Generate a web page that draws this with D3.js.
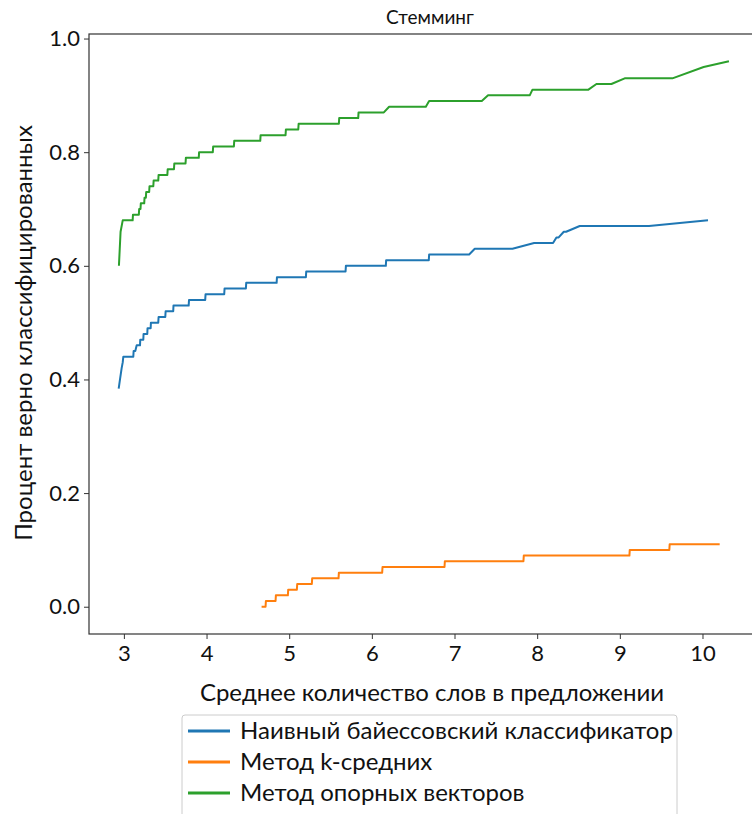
<!DOCTYPE html>
<html>
<head>
<meta charset="UTF-8" />
<title>Стемминг</title>
<script src="https://d3js.org/d3.v7.min.js"></script>
<style>
  body { margin: 0; background: #fff; }
  text { font-family: Lato, "Open Sans", sans-serif; fill: #111; }
</style>
</head>
<body>
<div id="main"></div>
<script type="text/javascript">

// Наивный байессовский классификатор
var bayesX = [2.937, 2.953, 2.973, 2.986, 2.993, 3.114, 3.118, 3.138, 3.155, 3.195, 3.198, 3.235, 3.238,
              3.283, 3.286, 3.324, 3.327, 3.416, 3.42, 3.501, 3.505, 3.597, 3.60, 3.784, 3.788, 3.984, 3.988,
              4.214, 4.218, 4.476, 4.48, 4.848, 4.852, 5.202, 5.206, 5.682, 5.686, 6.169, 6.173, 6.689, 6.693,
              7.177, 7.245, 7.701, 7.963, 8.192, 8.233, 8.26, 8.322, 8.35, 8.515, 9.353, 10.067];
var bayesY = [0.384, 0.40, 0.42, 0.43, 0.44, 0.44, 0.45, 0.45, 0.46, 0.46, 0.47, 0.47, 0.48,
              0.48, 0.49, 0.49, 0.50, 0.50, 0.51, 0.51, 0.52, 0.52, 0.53, 0.53, 0.54, 0.54, 0.55,
              0.55, 0.56, 0.56, 0.57, 0.57, 0.58, 0.58, 0.59, 0.59, 0.60, 0.60, 0.61, 0.61, 0.62,
              0.62, 0.63, 0.63, 0.64, 0.64, 0.65, 0.65, 0.66, 0.66, 0.67, 0.67, 0.68];

// Метод k-средних
var kmeansX = [4.666, 4.714, 4.718, 4.835, 4.839, 4.984, 4.988, 5.093, 5.097, 5.274, 5.278, 5.597, 5.601,
               6.125, 6.129, 6.879, 6.883, 7.834, 7.838, 9.116, 9.120, 9.599, 9.603, 10.208];
var kmeansY = [0.00, 0.00, 0.01, 0.01, 0.02, 0.02, 0.03, 0.03, 0.04, 0.04, 0.05, 0.05, 0.06,
               0.06, 0.07, 0.07, 0.08, 0.08, 0.09, 0.09, 0.10, 0.10, 0.11, 0.11];

// Метод опорных векторов
var svmX = [2.94, 2.95, 2.96, 2.986, 3.106, 3.11, 3.181, 3.185, 3.201, 3.205, 3.246, 3.25, 3.266, 3.27,
            3.306, 3.31, 3.356, 3.36, 3.416, 3.42, 3.526, 3.53, 3.606, 3.61, 3.746, 3.75, 3.906, 3.91,
            4.076, 4.08, 4.331, 4.335, 4.65, 4.654, 4.956, 4.96, 5.11, 5.114, 5.601, 5.605, 5.835, 5.839,
            6.145, 6.209, 6.653, 6.693, 7.33, 7.406, 7.91, 7.943, 8.62, 8.717, 8.898, 9.059, 9.636, 10.014, 10.32];
var svmY = [0.60, 0.63, 0.66, 0.68, 0.68, 0.69, 0.69, 0.70, 0.70, 0.71, 0.71, 0.72, 0.72, 0.73,
            0.73, 0.74, 0.74, 0.75, 0.75, 0.76, 0.76, 0.77, 0.77, 0.78, 0.78, 0.79, 0.79, 0.80,
            0.80, 0.81, 0.81, 0.82, 0.82, 0.83, 0.83, 0.84, 0.84, 0.85, 0.85, 0.86, 0.86, 0.87,
            0.87, 0.88, 0.88, 0.89, 0.89, 0.90, 0.90, 0.91, 0.91, 0.92, 0.92, 0.93, 0.93, 0.95, 0.96];

var seriesNames = ['Наивный байессовский классификатор', 'Метод k-средних', 'Метод опорных векторов'];
var seriesColors = ['#1f77b4', '#ff7f0e', '#2ca02c'];
var xTicks = [3, 4, 5, 6, 7, 8, 9, 10];
var yTicks = [0.0, 0.2, 0.4, 0.6, 0.8, 1.0];

var width = 752;
var height = 814;
var plotLeft = 89, plotRight = 762, plotTop = 34, plotBottom = 634;

var svg = d3.select('#main')
            .append('svg')
            .attr('width', width)
            .attr('height', height);

var x = d3.scaleLinear().domain([2.578, 10.72]).range([plotLeft, plotRight]);
var y = d3.scaleLinear().domain([-0.048, 1.008]).range([plotBottom, plotTop]);

var line = d3.line()
             .x(function(d){ return x(d[0]); })
             .y(function(d){ return y(d[1]); });

var series = [
  d3.zip(bayesX, bayesY),
  d3.zip(kmeansX, kmeansY),
  d3.zip(svmX, svmY)
];

svg.append('g')
   .selectAll('path')
   .data(series)
   .enter()
   .append('path')
   .attr('d', line)
   .attr('fill', 'none')
   .attr('stroke', function(d, i){ return seriesColors[i]; })
   .attr('stroke-width', 2)
   .attr('stroke-linejoin', 'round');

// axes
var xAxis = svg.append('g')
   .attr('transform', 'translate(0,' + plotBottom + ')')
   .call(d3.axisBottom(x).tickValues(xTicks).tickSize(5).tickPadding(6).tickFormat(d3.format('d')));
var yAxis = svg.append('g')
   .attr('transform', 'translate(' + plotLeft + ',0)')
   .call(d3.axisLeft(y).tickValues(yTicks).tickSize(5).tickPadding(4).tickFormat(d3.format('.1f')));

[xAxis, yAxis].forEach(function(a){
  a.select('.domain').remove();
  a.selectAll('line').attr('stroke', '#333');
  a.selectAll('text').style('font-size', '22px').attr('fill', '#111');
});

// frame
svg.append('rect')
   .attr('x', plotLeft).attr('y', plotTop)
   .attr('width', plotRight - plotLeft).attr('height', plotBottom - plotTop)
   .attr('fill', 'none')
   .attr('stroke', '#333')
   .attr('stroke-width', 1.2);

svg.append('text')
   .attr('x', 430).attr('y', 24)
   .attr('text-anchor', 'middle')
   .style('font-size', '19px')
   .text('Стемминг');

svg.append('text')
   .attr('x', 432).attr('y', 701)
   .attr('text-anchor', 'middle')
   .style('font-size', '24px')
   .text('Среднее количество слов в предложении');

svg.append('text')
   .attr('transform', 'translate(32,333) rotate(-90)')
   .attr('text-anchor', 'middle')
   .style('font-size', '24px')
   .text('Процент верно классифицированных');

// legend
var legend = svg.append('g');
legend.append('rect')
   .attr('x', 182).attr('y', 715)
   .attr('width', 495).attr('height', 110)
   .attr('rx', 3)
   .attr('fill', '#fff')
   .attr('stroke', '#ccc');

var items = legend.selectAll('g.item')
   .data(seriesNames)
   .enter()
   .append('g')
   .attr('transform', function(d, i){ return 'translate(0,' + (731 + i * 31) + ')'; });

items.append('line')
   .attr('x1', 188).attr('x2', 230)
   .attr('stroke', function(d, i){ return seriesColors[i]; })
   .attr('stroke-width', 3);

items.append('text')
   .attr('x', 240).attr('y', 8)
   .style('font-size', '24px')
   .text(function(d){ return d; });

</script>
</body>
</html>
